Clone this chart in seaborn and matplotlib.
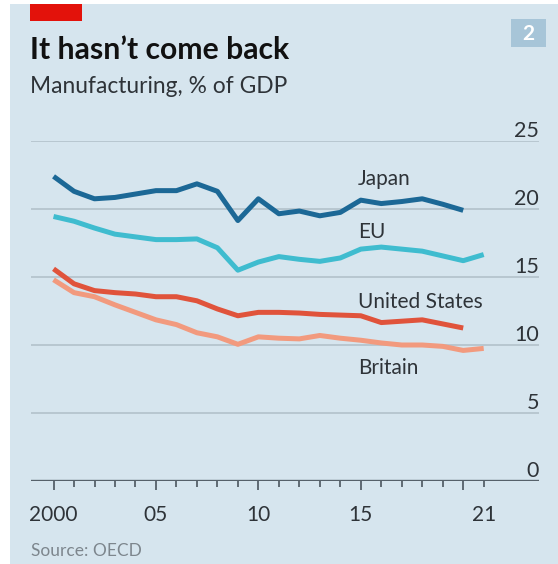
import matplotlib
matplotlib.use("Agg")
import matplotlib.pyplot as plt
import matplotlib.patches as mpatches
import matplotlib.transforms as mtransforms
import numpy as np
import pandas as pd
import seaborn as sns

# Manufacturing value added, % of GDP
years_long = list(range(2000, 2022))
years_short = list(range(2000, 2021))

japan = [22.4, 21.3, 20.75, 20.85, 21.1, 21.35, 21.35, 21.85, 21.3, 19.15, 20.75,
         19.65, 19.85, 19.5, 19.75, 20.65, 20.4, 20.55, 20.75, 20.35, 19.9]
eu = [19.45, 19.1, 18.6, 18.15, 17.95, 17.75, 17.75, 17.8, 17.15, 15.5, 16.1,
      16.5, 16.3, 16.15, 16.4, 17.05, 17.2, 17.05, 16.9, 16.55, 16.2, 16.65]
united_states = [15.6, 14.5, 14.0, 13.85, 13.75, 13.55, 13.55, 13.25, 12.65, 12.15, 12.4,
                 12.4, 12.35, 12.25, 12.2, 12.15, 11.65, 11.75, 11.85, 11.55, 11.25]
britain = [14.8, 13.85, 13.55, 12.95, 12.4, 11.85, 11.5, 10.9, 10.6, 10.05, 10.6,
           10.5, 10.45, 10.7, 10.5, 10.35, 10.15, 10.0, 10.0, 9.9, 9.6, 9.75]

series_names = ["Japan", "EU", "United States", "Britain"]
series_colors = ["#1c6896", "#3fbccf", "#e0533b", "#f29a7e"]
label_y = [21.76, 17.87, 12.72, 7.87]

y_ticks = [0, 5, 10, 15, 20, 25]
x_major = [2000, 2005, 2010, 2015, 2020]
x_major_labels = ["2000", "05", "10", "15", ""]
x_minor = years_long
x_minor_labels = ["21" if y == 2021 else "" for y in years_long]

frames = []
for name, yrs, vals in [("Japan", years_short, japan), ("EU", years_long, eu),
                        ("United States", years_short, united_states),
                        ("Britain", years_long, britain)]:
    frames.append(pd.DataFrame({"year": yrs, "value": vals, "series": name}))
df = pd.concat(frames, ignore_index=True)

sns.set_theme(style="white")
plt.rcParams["font.family"] = ["Lato", "DejaVu Sans"]

W, H = 558, 564
fig = plt.figure(figsize=(W / 100, H / 100), dpi=100)
fig.patch.set_facecolor("white")

BG = "#d6e5ee"
TEXT = "#2e3338"

# panel background
fig.add_artist(mpatches.Rectangle((10 / W, 0), 1 - 10 / W, 1 - 4 / H,
                                  transform=fig.transFigure, facecolor=BG,
                                  edgecolor="none", zorder=0))
# red tag
fig.add_artist(mpatches.Rectangle((30 / W, 1 - 21 / H), 52 / W, 17 / H,
                                  transform=fig.transFigure, facecolor="#e3120b",
                                  edgecolor="none", zorder=1))
# chart number box
fig.add_artist(mpatches.Rectangle((511 / W, 1 - 47 / H), 35 / W, 28 / H,
                                  transform=fig.transFigure, facecolor="#a7c5d8",
                                  edgecolor="none", zorder=1))
fig.text(528.5 / W, 1 - 34 / H, "2", color="white", fontsize=15, fontweight="bold",
         ha="center", va="center")

fig.text(30 / W, 1 - 59 / H, "It hasn\u2019t come back", color="#111111",
         fontsize=21.7, fontweight="bold", ha="left", va="baseline")
fig.text(30 / W, 1 - 93 / H, "Manufacturing, % of GDP", color=TEXT,
         fontsize=16.4, ha="left", va="baseline")
fig.text(31 / W, 1 - 556 / H, "Source: OECD", color="#7d868d",
         fontsize=12.5, ha="left", va="baseline")

ax = fig.add_axes([31 / W, (H - 481) / H, 508 / W, 340 / H])
ax.set_facecolor("none")

sns.lineplot(data=df, x="year", y="value", hue="series", hue_order=series_names,
             palette=series_colors, linewidth=3.6, ax=ax, legend=False, zorder=3)
for line in ax.get_lines():
    line.set_solid_capstyle("butt")
    line.set_solid_joinstyle("round")

ax.set_xlim(1998.9, 2023.7)
ax.set_ylim(0, 25)

for v in y_ticks[1:]:
    ax.axhline(v, color="#b0bec8", linewidth=1.1, zorder=1)
ax.axhline(0, color="#56616a", linewidth=1.7, zorder=4)

off = mtransforms.offset_copy(ax.transData, fig=fig, x=0, y=4 * 0.72, units="points")
for v in y_ticks:
    ax.text(2023.7, v, str(v), transform=off, ha="right", va="baseline",
            fontsize=15.5, color=TEXT)

for name, col, yy in zip(series_names, series_colors, label_y):
    ax.text(2014.87, yy, name, ha="left", va="baseline", fontsize=15, color=TEXT)

for s in ax.spines.values():
    s.set_visible(False)
ax.set_yticks([])
ax.set_xticks(x_major, labels=x_major_labels)
ax.set_xticks(x_minor, labels=x_minor_labels, minor=True)
ax.tick_params(axis="x", which="major", direction="out", length=6.5, width=1.3,
               color="#56616a", pad=10.5, labelsize=15, labelcolor=TEXT, bottom=True)
ax.tick_params(axis="x", which="minor", direction="out", length=4.3, width=1.3,
               color="#56616a", pad=12.7, labelsize=15, labelcolor=TEXT, bottom=True)
ax.set_xlabel("")
ax.set_ylabel("")

fig.savefig("out.png", dpi=100, facecolor=fig.get_facecolor())
